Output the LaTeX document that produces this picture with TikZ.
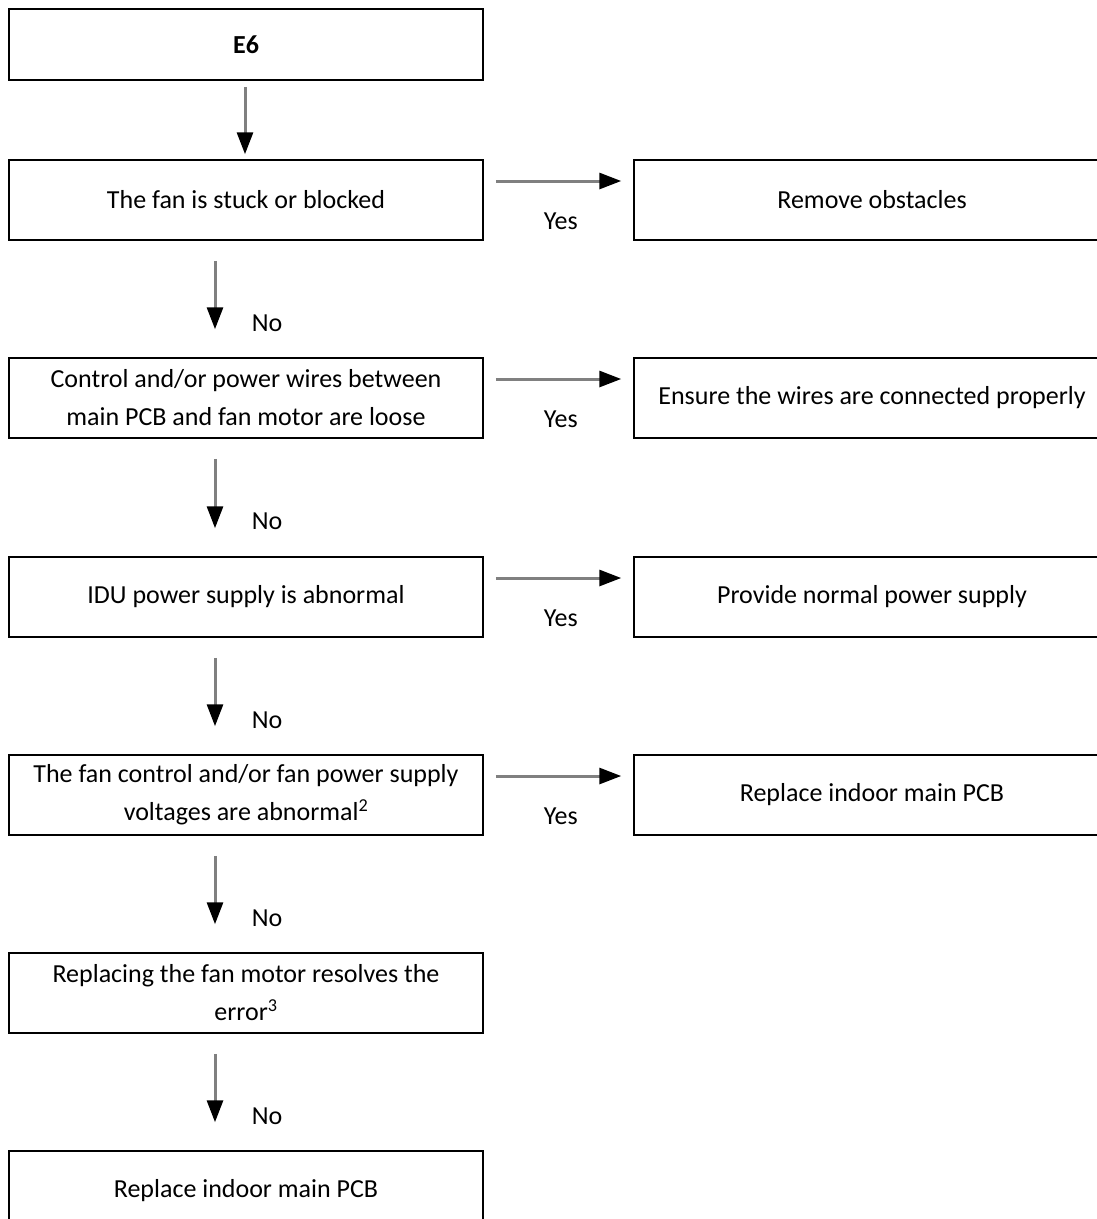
\documentclass[tikz,border=0pt]{standalone}
\usepackage{fontspec}
\setmainfont{Carlito}
\usetikzlibrary{arrows.meta}
\begin{document}
\begin{tikzpicture}[x=1pt,y=-1pt,
  box/.style={draw=black,line width=1.5pt,minimum width=474pt,minimum height=80pt,inner sep=0pt,align=center,
    font=\fontsize{26}{38}\selectfont},
  rbox/.style={box,minimum width=476pt},
  lab/.style={font=\fontsize{26}{30}\selectfont,inner sep=0pt},
  arr/.style={draw=black!50,line width=3pt,-{Triangle[length=22pt,width=16pt,color=black]}}
]
\useasboundingbox (0,0) rectangle (1097,1219);
\clip (0,0) rectangle (1097,1219);
\node[box,minimum height=71pt,font=\fontsize{26}{38}\selectfont\bfseries] (b1) at (246,44.5) {E6};
\node[box] (b2) at (246,200) {The fan is stuck or blocked};
\node[box] (b3) at (246,398) {Control and/or power wires between\\main PCB and fan motor are loose};
\node[box] (b4) at (246,597) {IDU power supply is abnormal};
\node[box] (b5) at (246,795) {The fan control and/or fan power supply\\voltages are abnormal\textsuperscript{2}};
\node[box] (b6) at (246,993) {Replacing the fan motor resolves the\\error\textsuperscript{3}};
\node[box] (b7) at (246,1191) {Replace indoor main PCB};

\node[rbox] (r2) at (872,200) {Remove obstacles};
\node[rbox] (r3) at (872,398) {Ensure the wires are connected properly};
\node[rbox] (r4) at (872,597) {Provide normal power supply};
\node[rbox] (r5) at (872,795) {Replace indoor main PCB};

\draw[arr] ([xshift=-1,yshift=-6]b1.south) -- ([xshift=-1,yshift=5]b2.north);
\foreach \a/\b in {b2/b3,b3/b4,b4/b5,b5/b6,b6/b7}{
  \draw[arr] ([xshift=-31,yshift=-20]\a.south) -- ([xshift=-31,yshift=28]\b.north);
}
\foreach \a in {2,3,4,5}{
  \draw[arr] ([xshift=12,yshift=19]b\a.east) -- ([xshift=-12,yshift=19]r\a.west);
  \node[lab] (y\a) at ([xshift=77,yshift=-21]b\a.east) {Yes};
}
\node[lab] (n3) at (267,323) {No};
\node[lab] (n4) at (267,521) {No};
\node[lab] (n5) at (267,720) {No};
\node[lab] (n6) at (267,918) {No};
\node[lab] (n7) at (267,1116) {No};
\end{tikzpicture}
\end{document}
